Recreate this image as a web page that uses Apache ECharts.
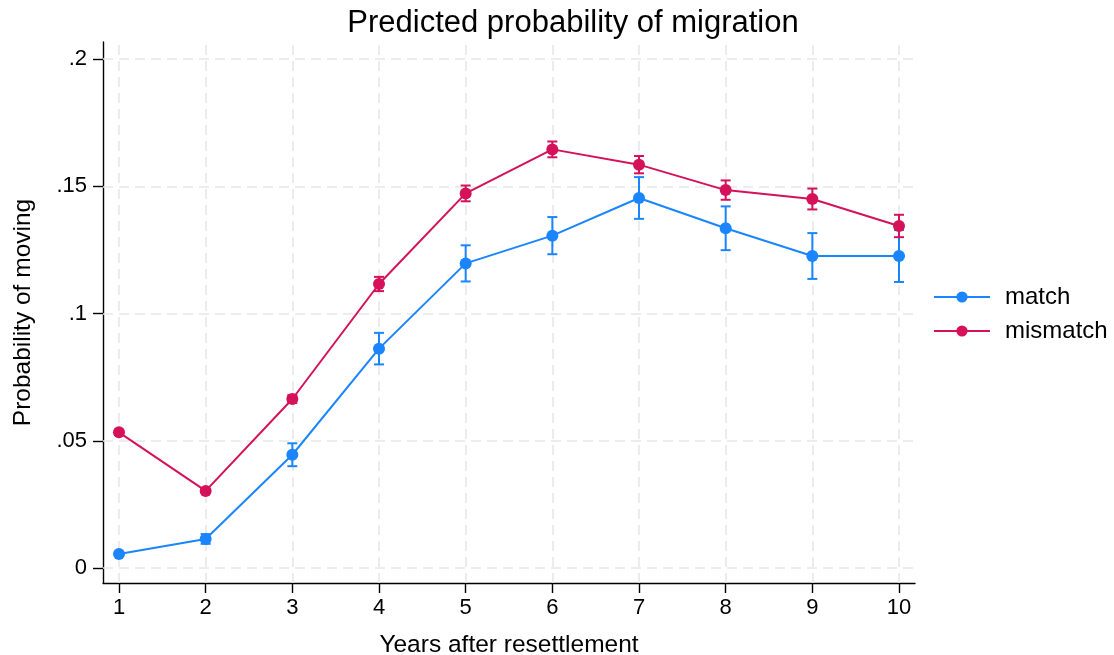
<!DOCTYPE html>
<html>
<head>
<meta charset="utf-8">
<script src="https://cdn.jsdelivr.net/npm/echarts@6/dist/echarts.min.js"></script>
<style>
html,body{margin:0;padding:0;background:#fff;}
#chart{width:1114px;height:655px;}
</style>
</head>
<body>
<div id="chart"></div>
<script>
// ---- data ----
const years = [1, 2, 3, 4, 5, 6, 7, 8, 9, 10];
const matchMean = [0.0055, 0.0114, 0.0445, 0.0862, 0.1197, 0.1306, 0.1454, 0.1335, 0.1226, 0.1226];
const matchHalfCI = [0.0008, 0.0019, 0.0045, 0.0062, 0.0071, 0.0073, 0.0082, 0.0086, 0.0090, 0.0102];
const mismatchMean = [0.0533, 0.0303, 0.0664, 0.1116, 0.1472, 0.1645, 0.1585, 0.1485, 0.1450, 0.1344];
const mismatchHalfCI = [0.0010, 0.0008, 0.0015, 0.0028, 0.0031, 0.0031, 0.0034, 0.0038, 0.0041, 0.0044];
const yTickValues = [0, 0.05, 0.1, 0.15, 0.2];
const yTickLabels = ['0', '.05', '.1', '.15', '.2'];
const xTickValues = [1, 2, 3, 4, 5, 6, 7, 8, 9, 10];
const seriesNames = ['match', 'mismatch'];
const titleText = 'Predicted probability of migration';
const xTitle = 'Years after resettlement';
const yTitle = 'Probability of moving';

const COL_MATCH = '#1a85ff';
const COL_MIS = '#d41159';
const FONT = '"Liberation Sans", Arial, Helvetica, sans-serif';

function pts(mean) { return years.map((x, i) => [x, mean[i]]); }
function ci(mean, half) { return years.map((x, i) => [x, mean[i] - half[i], mean[i] + half[i]]); }

function errRender(color) {
  return function (params, api) {
    const x = api.value(0);
    const lo = api.coord([x, api.value(1)]);
    const hi = api.coord([x, api.value(2)]);
    const cw = 5;
    const st = { stroke: color, lineWidth: 2 };
    return {
      type: 'group',
      children: [
        { type: 'line', shape: { x1: lo[0], y1: lo[1], x2: hi[0], y2: hi[1] }, style: st },
        { type: 'line', shape: { x1: lo[0] - cw, y1: lo[1], x2: lo[0] + cw, y2: lo[1] }, style: st },
        { type: 'line', shape: { x1: hi[0] - cw, y1: hi[1], x2: hi[0] + cw, y2: hi[1] }, style: st }
      ]
    };
  };
}

const gridLineStyle = { color: '#e8e8e8', width: 1.6, type: [10, 6] };

const chart = echarts.init(document.getElementById('chart'), null, { renderer: 'canvas' });
chart.setOption({
  animation: false,
  backgroundColor: '#ffffff',
  textStyle: { fontFamily: FONT },
  title: {
    text: titleText,
    left: 568,
    textAlign: 'center',
    top: 3,
    textStyle: { fontFamily: FONT, fontSize: 31, fontWeight: 'normal', color: '#000' }
  },
  legend: {
    orient: 'vertical',
    left: 928,
    top: 280,
    itemWidth: 56,
    itemHeight: 14,
    itemGap: 10,
    data: seriesNames,
    textStyle: { fontFamily: FONT, fontSize: 24, color: '#000', padding: [0, 0, 0, 10] }
  },
  grid: { left: 103, right: 199, top: 42, bottom: 72, containLabel: false, outerBoundsMode: 'none' },
  xAxis: {
    type: 'value',
    min: 0.8154,
    max: 10.1846,
    name: xTitle,
    nameLocation: 'middle',
    nameGap: 50,
    nameTextStyle: { fontFamily: FONT, fontSize: 24.5, color: '#000' },
    axisLine: { show: true, onZero: false, lineStyle: { color: '#000', width: 1.4 } },
    axisTick: { show: true, customValues: xTickValues, length: 10, lineStyle: { color: '#000', width: 1.4 } },
    axisLabel: { customValues: xTickValues, fontFamily: FONT, fontSize: 22, color: '#000', margin: 14 },
    splitLine: { show: false }
  },
  yAxis: {
    type: 'value',
    min: -0.0059,
    max: 0.2067,
    name: yTitle,
    nameLocation: 'middle',
    nameGap: 67,
    nameRotate: 90,
    nameTextStyle: { fontFamily: FONT, fontSize: 24.5, color: '#000' },
    axisLine: { show: true, onZero: false, lineStyle: { color: '#000', width: 1.4 } },
    axisTick: { show: true, customValues: yTickValues, length: 10, lineStyle: { color: '#000', width: 1.4 } },
    axisLabel: {
      customValues: yTickValues,
      fontFamily: FONT, fontSize: 22, color: '#000', margin: 16,
      formatter: function (v) {
        const i = yTickValues.findIndex(t => Math.abs(t - v) < 1e-9);
        return i >= 0 ? yTickLabels[i] : '';
      }
    },
    splitLine: { show: false }
  },
  series: [
    {
      name: 'grid',
      type: 'line',
      data: [],
      z: 0,
      zlevel: 0,
      silent: true,
      markLine: {
        silent: true,
        symbol: ['none', 'none'],
        label: { show: false },
        lineStyle: gridLineStyle,
        emphasis: { disabled: true },
        data: yTickValues.map(v => ({ yAxis: v })).concat(xTickValues.map(v => ({ xAxis: v })))
      }
    },
    {
      name: 'match CI',
      type: 'custom',
      renderItem: errRender(COL_MATCH),
      data: ci(matchMean, matchHalfCI),
      encode: { x: 0, y: [1, 2] },
      zlevel: 1,
      z: 2,
      silent: true
    },
    {
      name: seriesNames[0],
      type: 'line',
      data: pts(matchMean),
      symbol: 'circle',
      symbolSize: 12,
      itemStyle: { color: COL_MATCH, borderWidth: 0 },
      lineStyle: { color: COL_MATCH, width: 2 },
      zlevel: 1,
      z: 3
    },
    {
      name: 'mismatch CI',
      type: 'custom',
      renderItem: errRender(COL_MIS),
      data: ci(mismatchMean, mismatchHalfCI),
      encode: { x: 0, y: [1, 2] },
      zlevel: 1,
      z: 4,
      silent: true
    },
    {
      name: seriesNames[1],
      type: 'line',
      data: pts(mismatchMean),
      symbol: 'circle',
      symbolSize: 12,
      itemStyle: { color: COL_MIS, borderWidth: 0 },
      lineStyle: { color: COL_MIS, width: 2 },
      zlevel: 1,
      z: 5
    }
  ]
});
</script>
</body>
</html>
